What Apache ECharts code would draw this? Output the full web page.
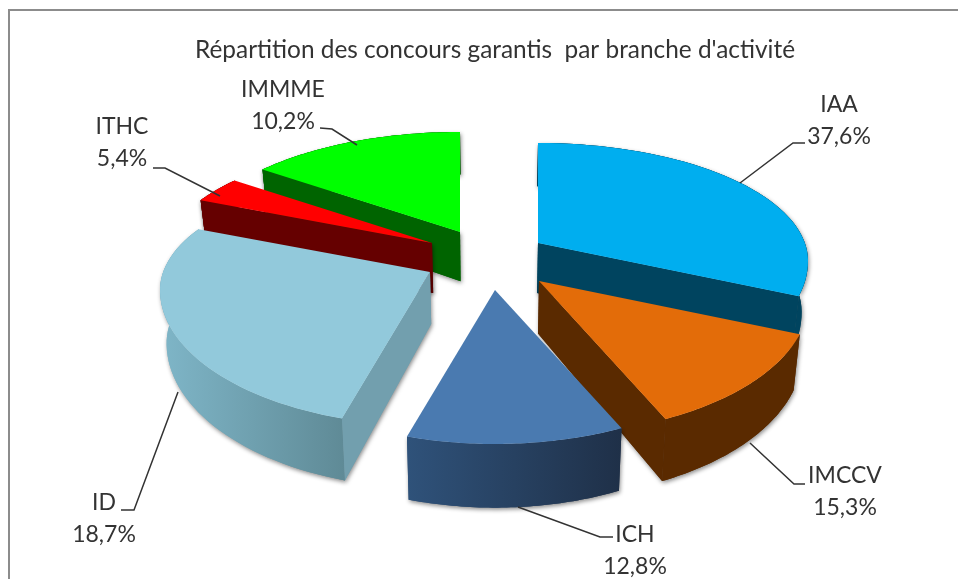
<!DOCTYPE html>
<html>
<head>
<meta charset="utf-8">
<script src="https://cdn.jsdelivr.net/npm/echarts@6/dist/echarts.min.js"></script>
<style>
  html, body { margin: 0; padding: 0; background: #fff; }
  #chart { width: 958px; height: 579px; }
</style>
</head>
<body>
<div id="chart"></div>
<script>
const categories = ['IAA', 'IMCCV', 'ICH', 'ID', 'ITHC', 'IMMME'];
const shares = [37.6, 15.3, 12.8, 18.7, 5.4, 10.2];
const chartTitle = "Répartition des concours garantis  par branche d'activité";

// couleurs : dessus, paroi radiale, bord (gauche, droite)
const topColors = ['#00aeef', '#e36c09', '#4a7ab0', '#92c9db', '#ff0000', '#00ff00'];
const sideColors = ['#00445f', '#5a2a00', '#2c4a70', '#729fae', '#650000', '#006400'];
const rimLeft = ['#00445f', '#5a2a00', '#2f527a', '#7fb6c8', '#650000', '#006400'];
const rimRight = ['#00445f', '#5a2a00', '#1f3048', '#5f8a96', '#650000', '#006400'];

// position des parts, decalage depuis le centre du camembert
const pieCenter = [490, 262];
const explodeX = [48, 49, 5, -60, -58, -30];
const explodeY = [-19, 19, 28, 10, -19, -30];
const radiusX = 270;
const radiusBack = 118;
const radiusFront = 136;
const ellipseDrop = 18;

// la perspective d'Excel deforme les angles : angle reel -> angle a l'ecran
const warpFrom = [0, 135.4, 190.4, 236.5, 303.8, 323.3, 360];
const warpTo = [0, 105, 152, 199, 301, 313, 360];

// etiquettes et traits de rappel
const labelX = [839, 845, 635, 104, 122, 283];
const labelY = [105, 476, 535, 503, 127, 90];
const leaders = [
  [[740, 183], [793, 143], [805, 143]],
  [[750, 443], [794, 484], [805, 484]],
  [[518, 507], [600, 537], [613, 537]],
  [[178, 392], [134, 510], [121, 510]],
  [[220, 196], [165, 168], [153, 168]],
  [[357, 145], [332, 129], [320, 128]]
];

// ordre de dessin : du fond vers l'avant
const drawOrder = [0, 1, 2, 5, 4, 3];

const warp = function (a) {
  for (let i = 1; i < warpFrom.length; i++) {
    if (a <= warpFrom[i] + 1e-6) {
      const k = (a - warpFrom[i - 1]) / (warpFrom[i] - warpFrom[i - 1]);
      return warpTo[i - 1] + k * (warpTo[i] - warpTo[i - 1]);
    }
  }
  return 360;
};

const total = shares.reduce((s, v) => s + v, 0);
const startAngles = [];
shares.reduce((s, v, i) => {
  startAngles[i] = s / total * 360;
  return s + v;
}, 0);

const wallHeight = y => 45 + (y - 170) * 0.068;
const lower = p => [p[0] - (p[0] - pieCenter[0]) * 0.02, p[1] + wallHeight(p[1])];

const rimPoint = function (apex, deg) {
  const t = deg * Math.PI / 180;
  const c = Math.cos(t);
  return [
    apex[0] + radiusX * Math.sin(t),
    apex[1] + ellipseDrop - c * (c > 0 ? radiusBack : radiusFront)
  ];
};

// paroi radiale visible seulement si la part est au-dessus de l'arete
const faceVisible = function (apex, p, mid) {
  if (Math.abs(p[0] - apex[0]) < 8) return false;
  const yOnLine = apex[1] + (mid[0] - apex[0]) / (p[0] - apex[0]) * (p[1] - apex[1]);
  return mid[1] < yOnLine;
};

const wallShadow = {
  shadowBlur: 4,
  shadowOffsetX: 1,
  shadowOffsetY: 2,
  shadowColor: 'rgba(0,0,0,0.45)'
};

const renderSlice = function (params, api) {
  const i = api.value(0);
  const share = api.value(1);
  const apex = [pieCenter[0] + explodeX[i], pieCenter[1] + explodeY[i]];
  const a0 = startAngles[i];
  const a1 = a0 + share / total * 360;
  const t0 = warp(a0);
  const t1 = warp(a1);

  const rim = [];
  const steps = 48;
  for (let s = 0; s <= steps; s++) {
    rim.push(rimPoint(apex, t0 + (t1 - t0) * s / steps));
  }
  const first = rim[0];
  const last = rim[steps];
  const mid = rim[steps / 2];

  const rimStyle = {
    fill: new echarts.graphic.LinearGradient(0, 0, 1, 0, [
      { offset: 0, color: rimLeft[i] },
      { offset: 1, color: rimRight[i] }
    ])
  };
  const walls = [{ points: rim.concat(rim.map(lower).reverse()), style: rimStyle }];
  [first, last].forEach(p => {
    if (faceVisible(apex, p, mid)) {
      walls.push({ points: [apex, p, lower(p), lower(apex)], style: { fill: sideColors[i] } });
    }
  });

  const children = [];
  // ombre d'abord, puis les parois sans ombre pour ne pas marquer les raccords
  walls.forEach(w => {
    children.push({
      type: 'polygon',
      shape: { points: w.points },
      style: Object.assign({}, w.style, wallShadow)
    });
  });
  walls.forEach(w => {
    children.push({ type: 'polygon', shape: { points: w.points }, style: w.style });
  });
  children.push({
    type: 'polygon',
    shape: { points: [apex].concat(rim) },
    style: { fill: topColors[i] }
  });

  children.push({
    type: 'polyline',
    shape: { points: leaders[i] },
    style: { stroke: '#333', lineWidth: 1.5, fill: null }
  });
  children.push({
    type: 'text',
    style: {
      x: labelX[i], y: labelY[i], text: categories[i],
      align: 'center', verticalAlign: 'middle',
      font: '23px Lato', fill: '#333'
    }
  });
  children.push({
    type: 'text',
    style: {
      x: labelX[i], y: labelY[i] + 32, text: share.toFixed(1).replace('.', ',') + '%',
      align: 'center', verticalAlign: 'middle',
      font: '23px Lato', fill: '#333'
    }
  });
  return { type: 'group', children: children };
};

const myChart = echarts.init(document.getElementById('chart'));

const option = {
  animation: false,
  backgroundColor: '#fff',
  title: {
    text: chartTitle,
    left: 190,
    top: 33,
    textStyle: { color: '#333', fontFamily: 'Lato', fontSize: 24.4, fontWeight: 400 }
  },
  graphic: [{
    type: 'polyline',
    z: -1,
    shape: { points: [[9, 579], [9, 10], [958, 10]] },
    style: { fill: null, stroke: '#8c8c8c', lineWidth: 2 },
    silent: true
  }],
  series: [{
    type: 'custom',
    coordinateSystem: 'none',
    renderItem: renderSlice,
    silent: true,
    data: drawOrder.map(i => [i, shares[i]])
  }]
};

myChart.setOption(option);
</script>
</body>
</html>
